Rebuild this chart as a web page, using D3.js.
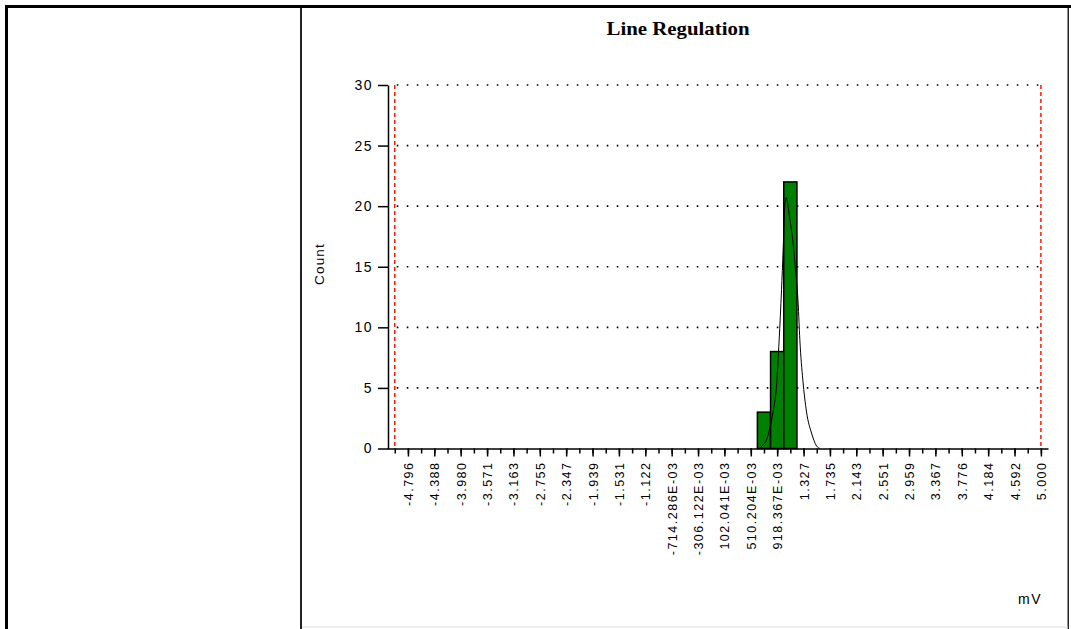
<!DOCTYPE html>
<html>
<head>
<meta charset="utf-8">
<script src="https://cdn.jsdelivr.net/npm/d3@7"></script>
<style>
  body { margin: 0; background: #fff; }
  text { font-family: "Liberation Sans", Arial, sans-serif; fill: #000; }
</style>
</head>
<body>
<svg id="chart" width="1071" height="629"></svg>
<script>
// histogram data (bar centres in mV, counts)
var binCenters = [0.714286, 0.918367, 1.122449];
var binCounts = [3, 8, 22];
var binWidth = 10 / 49;

// fitted curve
var curveX = [0.650, 0.697, 0.754, 0.805, 0.856, 0.909, 0.949, 0.986, 1.011, 1.037, 1.060, 1.084, 1.115, 1.166, 1.207, 1.243, 1.269, 1.316, 1.373, 1.450, 1.528, 1.579];
var curveY = [0, 0.29, 0.70, 1.69, 3.01, 5.24, 8.95, 13.1, 16.4, 20.1, 20.7, 20.1, 18.9, 16.9, 14.4, 12.0, 9.0, 5.65, 3.01, 1.28, 0.21, 0];

// axis labels
var xTickLabels = ["-4.796", "-4.388", "-3.980", "-3.571", "-3.163", "-2.755", "-2.347", "-1.939",
    "-1.531", "-1.122", "-714.286E-03", "-306.122E-03", "102.041E-03", "510.204E-03", "918.367E-03",
    "1.327", "1.735", "2.143", "2.551", "2.959", "3.367", "3.776", "4.184", "4.592", "5.000"];
var yTicks = [0, 5, 10, 15, 20, 25, 30];
var limits = [-5, 5];

var svg = d3.select('#chart');

// frame of the table around the chart
svg.append('rect').attr('x', 5).attr('y', 5).attr('width', 1068).attr('height', 3).attr('fill', '#000');
svg.append('rect').attr('x', 5).attr('y', 5).attr('width', 3).attr('height', 624).attr('fill', '#000');
svg.append('rect').attr('x', 300).attr('y', 8).attr('width', 2).attr('height', 621).attr('fill', '#222');
svg.append('rect').attr('x', 1067.5).attr('y', 8).attr('width', 1.5).attr('height', 621).attr('fill', '#222');
svg.append('rect').attr('x', 302).attr('y', 626.5).attr('width', 766).attr('height', 1).attr('fill', '#ddd');

var xScale = d3.scaleLinear().domain([-5.12, 5.11]).range([387, 1048]);
var yScale = d3.scaleLinear().domain([0, 30]).range([448.5, 85]);

// title
svg.append('text')
    .attr('x', 678).attr('y', 35)
    .attr('text-anchor', 'middle')
    .attr('textLength', 143).attr('lengthAdjust', 'spacingAndGlyphs')
    .style('font-family', '"Liberation Serif", "Times New Roman", serif')
    .style('font-weight', 'bold')
    .style('font-size', '19px')
    .text('Line Regulation');

// dotted grid lines
svg.append('g').selectAll('line')
    .data(yTicks.filter(function(d) { return d > 0; }))
    .enter().append('line')
    .attr('x1', xScale(limits[0]) + 2).attr('x2', xScale(limits[1]))
    .attr('y1', function(d) { return yScale(d); })
    .attr('y2', function(d) { return yScale(d); })
    .attr('stroke', '#000').attr('stroke-width', 1.6)
    .attr('stroke-dasharray', '1.6,8.4');

// red limit lines
svg.append('g').selectAll('line')
    .data(limits)
    .enter().append('line')
    .attr('x1', function(d) { return xScale(d); })
    .attr('x2', function(d) { return xScale(d); })
    .attr('y1', yScale(30)).attr('y2', yScale(0))
    .attr('stroke', '#ff1a00').attr('stroke-width', 1.5)
    .attr('stroke-dasharray', '4,3');

// bars
svg.append('g').selectAll('rect')
    .data(binCenters)
    .enter().append('rect')
    .attr('x', function(d) { return xScale(d - binWidth / 2); })
    .attr('width', function(d) { return xScale(d + binWidth / 2) - xScale(d - binWidth / 2); })
    .attr('y', function(d, i) { return yScale(binCounts[i]); })
    .attr('height', function(d, i) { return yScale(0) - yScale(binCounts[i]); })
    .attr('fill', '#008000')
    .attr('stroke', '#000').attr('stroke-width', 1.5);

// fitted curve
var line = d3.line()
    .x(function(d, i) { return xScale(curveX[i]); })
    .y(function(d) { return yScale(d); })
    .curve(d3.curveMonotoneX);

svg.append('path')
    .attr('d', line(curveY))
    .attr('fill', 'none')
    .attr('stroke', '#000').attr('stroke-width', 1);

// x axis: minor ticks at every bin edge, labels at every other edge
var minorTicks = d3.range(0, 50).map(function(k) { return limits[0] + k * binWidth; });

svg.append('g')
    .attr('transform', 'translate(0,' + yScale(0) + ')')
    .call(d3.axisBottom(xScale).tickValues(minorTicks).tickSize(5).tickSizeOuter(0).tickFormat(''))
    .call(function(g) { g.selectAll('line, path').attr('stroke', '#000').attr('stroke-width', 1.5); });

var xAxis = svg.append('g')
    .attr('transform', 'translate(0,' + yScale(0) + ')')
    .call(d3.axisBottom(xScale)
        .tickValues(xTickLabels.map(Number))
        .tickFormat(function(d, i) { return xTickLabels[i]; })
        .tickSize(8).tickSizeOuter(0));

xAxis.select('.domain').remove();
xAxis.selectAll('line').attr('stroke', '#000').attr('stroke-width', 1.5);
xAxis.selectAll('text')
    .attr('transform', 'rotate(-90)')
    .attr('x', -13).attr('y', 0).attr('dy', '0.36em')
    .style('text-anchor', 'end')
    .style('font-size', '12.5px')
    .style('letter-spacing', '1.5px')
    .style('font-family', '"Liberation Sans", Arial, sans-serif');

// y axis
var yAxis = svg.append('g')
    .attr('transform', 'translate(' + 388 + ',0)')
    .call(d3.axisLeft(yScale).tickValues(yTicks).tickSize(10).tickSizeOuter(0).tickPadding(5));

yAxis.selectAll('line, path').attr('stroke', '#000').attr('stroke-width', 1.5);
yAxis.selectAll('text')
    .style('font-size', '14px')
    .style('letter-spacing', '1.5px')
    .style('font-family', '"Liberation Sans", Arial, sans-serif');

// axis titles
svg.append('text')
    .attr('transform', 'translate(324,264) rotate(-90)')
    .attr('text-anchor', 'middle')
    .style('font-size', '13.5px')
    .style('letter-spacing', '1.2px')
    .text('Count');

svg.append('text')
    .attr('x', 1042).attr('y', 604)
    .attr('text-anchor', 'end')
    .style('font-size', '14px')
    .style('letter-spacing', '1.5px')
    .text('mV');
</script>
</body>
</html>
